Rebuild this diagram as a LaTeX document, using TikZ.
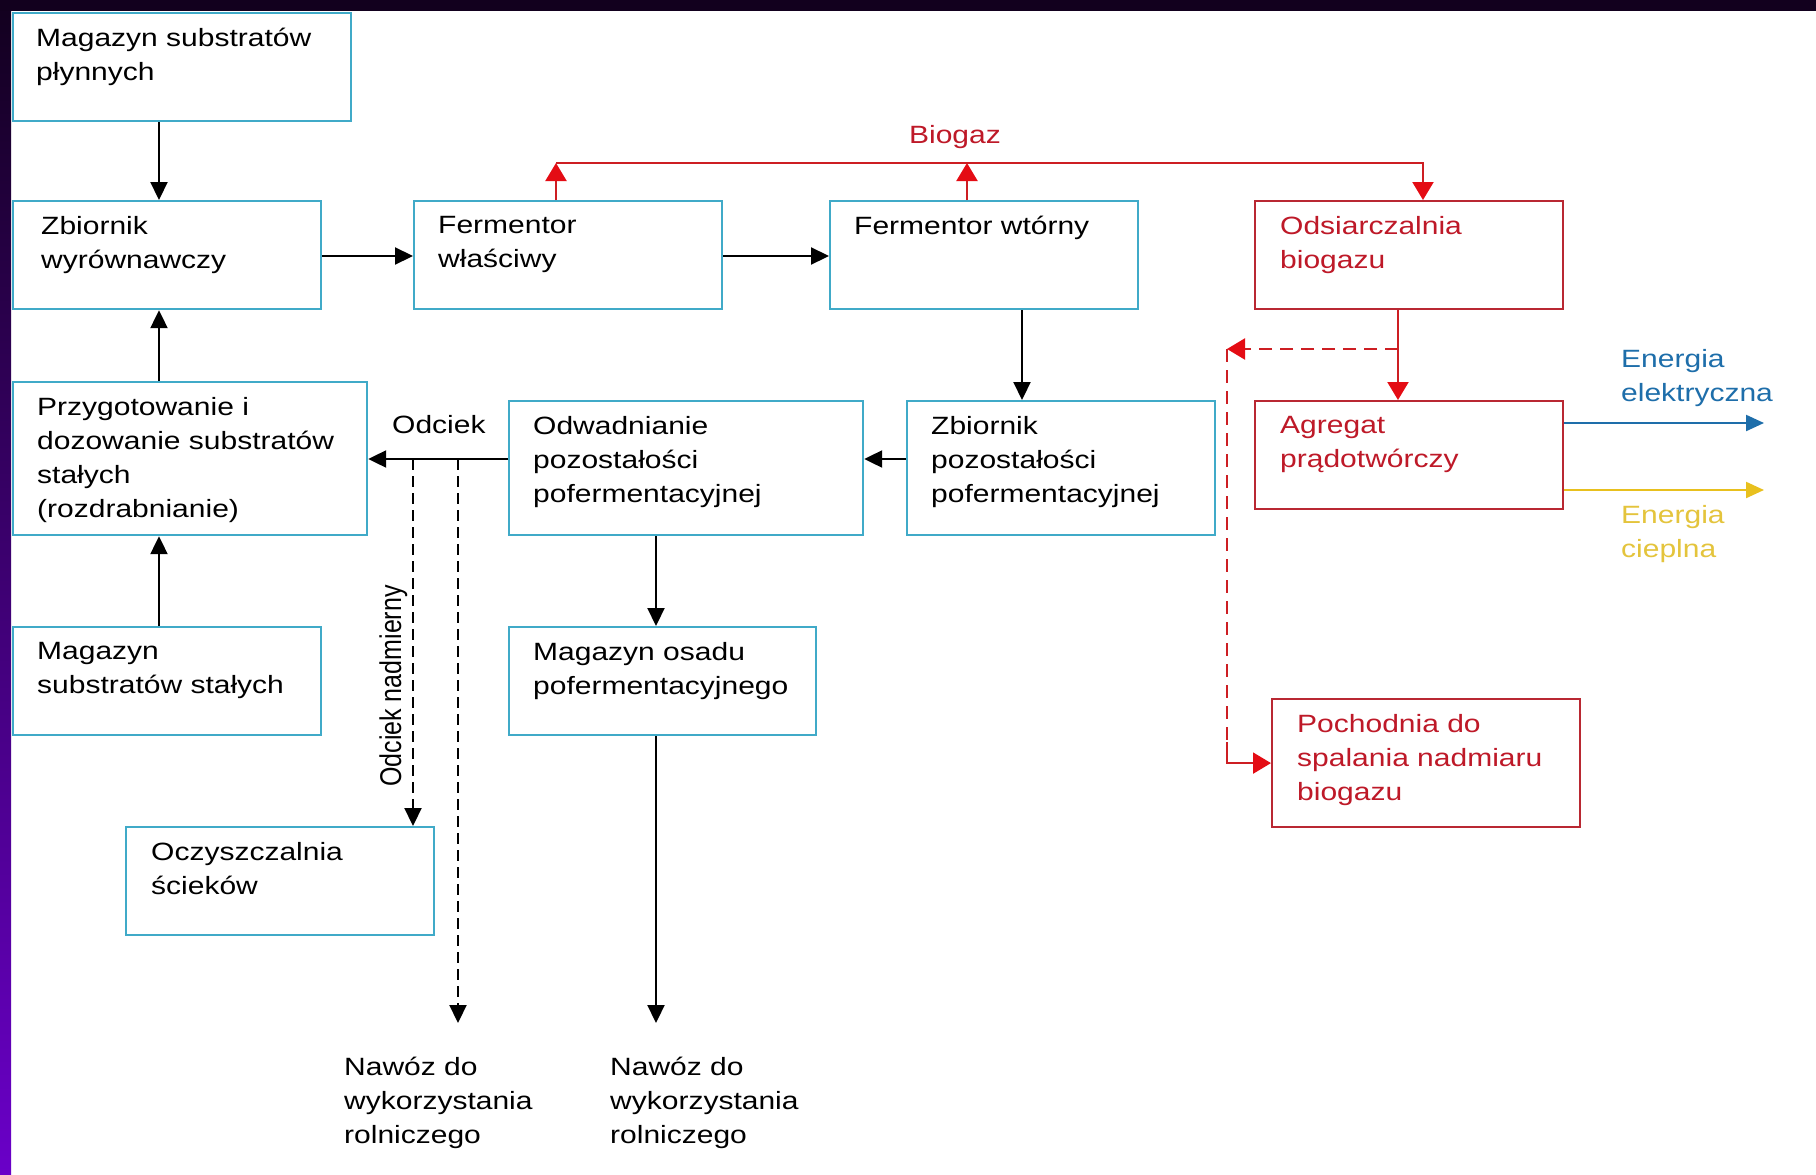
\documentclass[tikz,border=0pt]{standalone}
\usepackage{fontspec}
\setmainfont[FakeStretch=1.2]{Liberation Sans}
\newfontfamily\plainfont{Liberation Sans}
\usetikzlibrary{arrows.meta}
\definecolor{boxblue}{RGB}{64,170,200}
\definecolor{boxred}{RGB}{185,40,50}
\definecolor{txtred}{RGB}{190,25,40}
\definecolor{linered}{RGB}{205,30,35}
\definecolor{tipred}{RGB}{228,12,20}
\definecolor{enblue}{RGB}{30,110,170}
\definecolor{enyellow}{RGB}{232,192,30}
\definecolor{txtyellow}{RGB}{228,196,60}
\definecolor{frametop}{RGB}{18,0,30}
\definecolor{framebot}{RGB}{106,0,200}
\begin{document}
\begin{tikzpicture}[x=1pt,y=-1pt,
  bx/.style 2 args={draw=boxblue, line width=2.2pt, minimum width=#1pt, minimum height=#2pt, anchor=north west, inner sep=0pt},
  rbx/.style 2 args={bx={#1}{#2}, draw=boxred},
  txt/.style={anchor=north west, align=left, inner sep=0pt, font=\fontsize{25}{34}\selectfont},
  rtxt/.style={txt, text=txtred},
  arr/.style={line width=2.2pt, -{Triangle[length=18pt,width=17pt]}},
  darr/.style={arr, dash pattern=on 11pt off 6pt},
  rarr/.style={draw=linered, line width=2.2pt, -{Triangle[length=18pt,width=21pt,color=tipred]}},
  rdarr/.style={rarr, dash pattern=on 13pt off 8pt},
  rsarr/.style={rarr},
  earr/.style={line width=2.2pt, -{Triangle[length=18pt,width=16pt]}}
]
\useasboundingbox (0,0) rectangle (1816,1175);
\fill[white] (0,0) rectangle (1816,1175);
\shade[top color=frametop, bottom color=framebot] (0,0) rectangle (11,1175);
\fill[frametop] (0,0) rectangle (1816,11);

% boxes
\node[bx={338}{108}] (b1) at (12,12) {};
\node[txt] (t1) at ([shift={(24,16)}]b1.north west) {Magazyn substratów\\płynnych};
\node[bx={308}{108}] (b2) at (12,200) {};
\node[txt] (t2) at ([shift={(29,16)}]b2.north west) {Zbiornik\\wyrównawczy};
\node[bx={308}{108}] (b3) at (413,200) {};
\node[txt] (t3) at ([shift={(25,16)}]b3.north west) {Fermentor\\właściwy};
\node[bx={308}{108}] (b4) at (829,200) {};
\node[txt] (t4) at ([shift={(25,16)}]b4.north west) {Fermentor wtórny};
\node[rbx={308}{108}] (b5) at (1254,200) {};
\node[rtxt] (t5) at ([shift={(26,16)}]b5.north west) {Odsiarczalnia\\biogazu};
\node[bx={354}{153}] (b6) at (12,381) {};
\node[txt] (t6) at ([shift={(25,16)}]b6.north west) {Przygotowanie i\\dozowanie substratów\\stałych\\(rozdrabnianie)};
\node[bx={354}{134}] (b7) at (508,400) {};
\node[txt] (t7) at ([shift={(25,16)}]b7.north west) {Odwadnianie\\pozostałości\\pofermentacyjnej};
\node[bx={308}{134}] (b8) at (906,400) {};
\node[txt] (t8) at ([shift={(25,16)}]b8.north west) {Zbiornik\\pozostałości\\pofermentacyjnej};
\node[rbx={308}{108}] (b9) at (1254,400) {};
\node[rtxt] (t9) at ([shift={(26,16)}]b9.north west) {Agregat\\prądotwórczy};
\node[bx={308}{108}] (b10) at (12,626) {};
\node[txt] (t10) at ([shift={(25,16)}]b10.north west) {Magazyn\\substratów stałych};
\node[bx={307}{108}] (b11) at (508,626) {};
\node[txt] (t11) at ([shift={(25,16)}]b11.north west) {Magazyn osadu\\pofermentacyjnego};
\node[bx={308}{108}] (b12) at (125,826) {};
\node[txt] (t12) at ([shift={(26,16)}]b12.north west) {Oczyszczalnia\\ścieków};
\node[rbx={308}{128}] (b13) at (1271,698) {};
\node[rtxt] (t13) at ([shift={(26,16)}]b13.north west) {Pochodnia do\\spalania nadmiaru\\biogazu};

% helper coordinates
\coordinate (xa) at (159,0);
\coordinate (ya) at (0,256);
\coordinate (xb) at (1022,0);
\coordinate (yb) at (0,459);
\coordinate (xc) at (656,0);
\coordinate (s1) at (413,459);
\coordinate (s2) at (458,459);
\coordinate (n1) at (458,1023);
\coordinate (n2) at (656,1023);
\coordinate (g1) at (556,163);
\coordinate (g2) at (967,163);
\coordinate (g3) at (1423,163);
\coordinate (xr) at (1398,0);
\coordinate (d1) at (1398,349);
\coordinate (d2) at (1227,349);
\coordinate (d3) at (1227,742);
\coordinate (e1) at (1764,423);
\coordinate (e2) at (1764,490);

% black connectors
\draw[arr] (b1.south -| xa) -- (b2.north -| xa);
\draw[arr] (b2.east |- ya) -- (b3.west |- ya);
\draw[arr] (b3.east |- ya) -- (b4.west |- ya);
\draw[arr] (b6.north -| xa) -- (b2.south -| xa);
\draw[arr] (b10.north -| xa) -- (b6.south -| xa);
\draw[arr] (b4.south -| xb) -- (b8.north -| xb);
\draw[arr] (b8.west |- yb) -- (b7.east |- yb);
\draw[arr] (b7.west |- yb) -- (b6.east |- yb);
\draw[darr] (s1) -- (b12.north -| s1);
\draw[darr] (s2) -- (n1);
\draw[arr] (b7.south -| xc) -- (b11.north -| xc);
\draw[arr] (b11.south -| xc) -- (n2);

% red connectors
\draw[rarr] (b3.north -| g1) -- (g1);
\draw[rarr] (b4.north -| g2) -- (g2);
\draw[rarr] (g1) -- (g3) -- (b5.north -| g3);
\draw[rarr] (b5.south -| xr) -- (b9.north -| xr);
\draw[rdarr] (d1) -- (d2);
\draw[draw=linered, line width=2.2pt, dash pattern=on 13pt off 8pt] (d2) -- (d3);
\draw[rsarr] (d3) |- (b13.west);

% energy outputs
\draw[earr, draw=enblue, color=enblue] (b9.east |- e1) -- (e1);
\draw[earr, draw=enyellow, color=enyellow] (b9.east |- e2) -- (e2);

% labels
\node[txt, anchor=north, text=txtred] (lbio) at (955,125) {Biogaz};
\node[txt] (lodc) at (392,415) {Odciek};
\node[rotate=90, anchor=base, inner sep=0pt, font=\plainfont\fontsize{25}{30}\selectfont] (lodn) at (401,686) {\scalebox{1}[1.2]{Odciek nadmierny}};
\node[txt] (naw1) at (344,1057) {Nawóz do\\wykorzystania\\rolniczego};
\node[txt] (naw2) at (610,1057) {Nawóz do\\wykorzystania\\rolniczego};
\node[txt, text=enblue] (lel) at (1621,349) {Energia\\elektryczna};
\node[txt, text=txtyellow] (lci) at (1621,505) {Energia\\cieplna};
\end{tikzpicture}
\end{document}
